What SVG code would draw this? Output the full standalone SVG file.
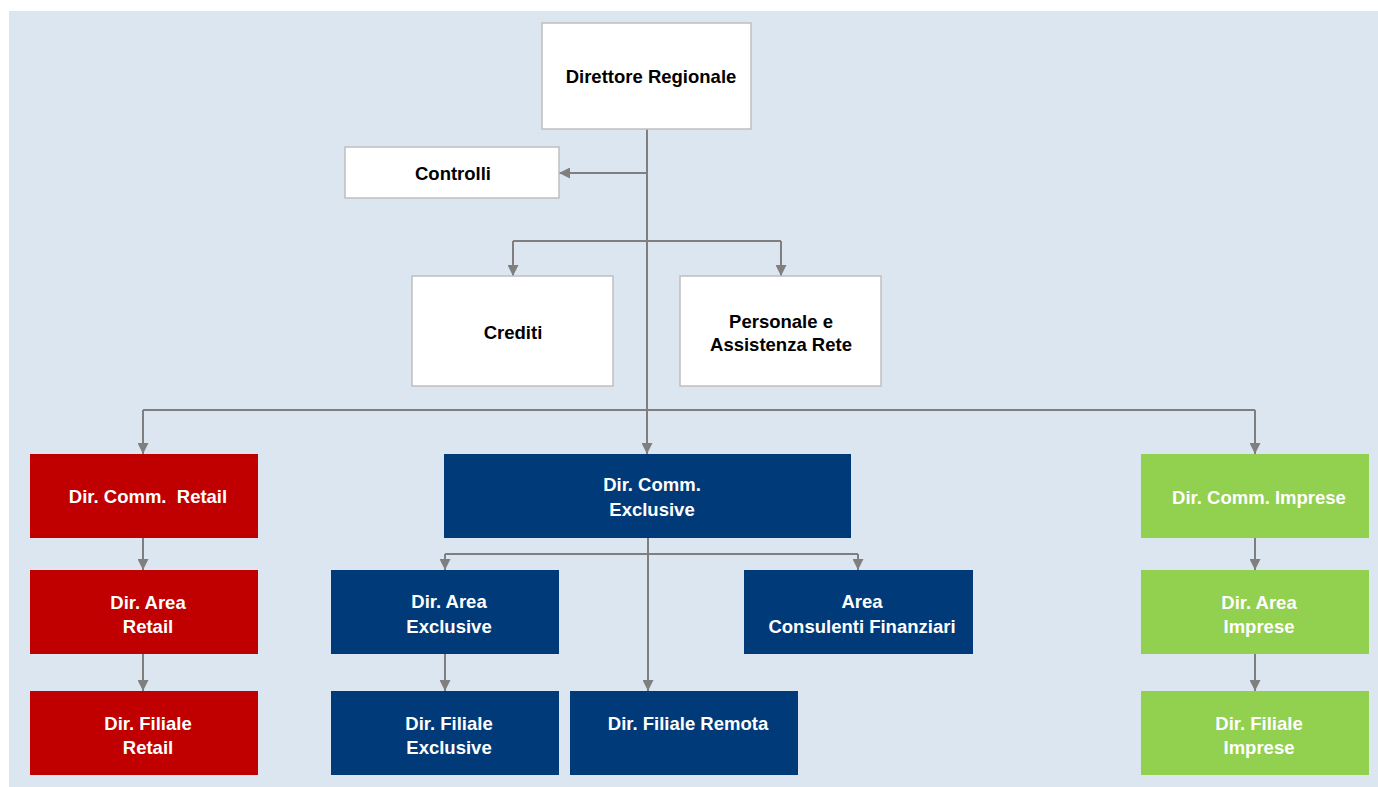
<svg xmlns="http://www.w3.org/2000/svg" width="1378" height="787" viewBox="0 0 1378 787">
<style>
.w{fill:#ffffff;stroke:#bfbfbf;stroke-width:1.5}
.r{fill:#c00000}
.b{fill:#003a78}
.g{fill:#92d050}
text{font-family:"Liberation Sans",Arial,sans-serif;font-weight:bold;font-size:18.5px;text-anchor:middle}
.dk{fill:#000000}
.lt{fill:#ffffff}
.c{fill:none;stroke:#7f7f7f;stroke-width:2}
</style>
<defs>
<marker id="ah2" viewBox="0 0 10 10" refX="10" refY="5" markerWidth="11" markerHeight="11" orient="auto" markerUnits="userSpaceOnUse">
<path d="M0,0 L10,5 L0,10 z" fill="#7f7f7f"/>
</marker>
</defs>
<rect x="9" y="11" width="1369" height="776" fill="#dce6f1"/>
<g id="connectors">
<path class="c" d="M647,129 V454" stroke-width="3" marker-end="url(#ah2)"/>
<path class="c" d="M647,173 H559" marker-end="url(#ah2)"/>
<path class="c" d="M513,241 H781"/>
<path class="c" d="M513,241 V276" marker-end="url(#ah2)"/>
<path class="c" d="M781,241 V276" marker-end="url(#ah2)"/>
<path class="c" d="M143,410 H1255"/>
<path class="c" d="M143,410 V454" marker-end="url(#ah2)"/>
<path class="c" d="M1255,410 V454" marker-end="url(#ah2)"/>
<path class="c" d="M143,538 V570" marker-end="url(#ah2)"/>
<path class="c" d="M143,654 V691" marker-end="url(#ah2)"/>
<path class="c" d="M1255,538 V570" marker-end="url(#ah2)"/>
<path class="c" d="M1255,654 V691" marker-end="url(#ah2)"/>
<path class="c" d="M648,538 V691" marker-end="url(#ah2)"/>
<path class="c" d="M445,554 H858"/>
<path class="c" d="M445,554 V570" marker-end="url(#ah2)"/>
<path class="c" d="M858,554 V570" marker-end="url(#ah2)"/>
<path class="c" d="M445,654 V691" marker-end="url(#ah2)"/>
</g>
<g id="direttore"><rect class="w" x="542" y="23" width="209" height="106"/><text class="dk" x="651" y="83">Direttore Regionale</text></g>
<g id="controlli"><rect class="w" x="345" y="147" width="214" height="51"/><text class="dk" x="453" y="180">Controlli</text></g>
<g id="crediti"><rect class="w" x="412" y="276" width="201" height="110"/><text class="dk" x="513" y="339">Crediti</text></g>
<g id="personale"><rect class="w" x="680" y="276" width="201" height="110"/><text class="dk" x="781" y="328">Personale e</text><text class="dk" x="781" y="351">Assistenza Rete</text></g>
<g id="comm-retail"><rect class="r" x="30" y="454" width="228" height="84"/><text class="lt" x="148" y="503" xml:space="preserve">Dir. Comm.  Retail</text></g>
<g id="comm-exclusive"><rect class="b" x="444" y="454" width="407" height="84"/><text class="lt" x="652" y="491">Dir. Comm.</text><text class="lt" x="652" y="516">Exclusive</text></g>
<g id="comm-imprese"><rect class="g" x="1141" y="454" width="228" height="84"/><text class="lt" x="1259" y="504">Dir. Comm. Imprese</text></g>
<g id="area-retail"><rect class="r" x="30" y="570" width="228" height="84"/><text class="lt" x="148" y="609">Dir. Area</text><text class="lt" x="148" y="633">Retail</text></g>
<g id="area-exclusive"><rect class="b" x="331" y="570" width="228" height="84"/><text class="lt" x="449" y="608">Dir. Area</text><text class="lt" x="449" y="633">Exclusive</text></g>
<g id="area-consulenti"><rect class="b" x="744" y="570" width="229" height="84"/><text class="lt" x="862" y="608">Area</text><text class="lt" x="862" y="633">Consulenti Finanziari</text></g>
<g id="area-imprese"><rect class="g" x="1141" y="570" width="228" height="84"/><text class="lt" x="1259" y="609">Dir. Area</text><text class="lt" x="1259" y="633">Imprese</text></g>
<g id="filiale-retail"><rect class="r" x="30" y="691" width="228" height="84"/><text class="lt" x="148" y="730">Dir. Filiale</text><text class="lt" x="148" y="754">Retail</text></g>
<g id="filiale-exclusive"><rect class="b" x="331" y="691" width="228" height="84"/><text class="lt" x="449" y="730">Dir. Filiale</text><text class="lt" x="449" y="754">Exclusive</text></g>
<g id="filiale-remota"><rect class="b" x="570" y="691" width="228" height="84"/><text class="lt" x="688" y="730">Dir. Filiale Remota</text></g>
<g id="filiale-imprese"><rect class="g" x="1141" y="691" width="228" height="84"/><text class="lt" x="1259" y="730">Dir. Filiale</text><text class="lt" x="1259" y="754">Imprese</text></g>
</svg>
